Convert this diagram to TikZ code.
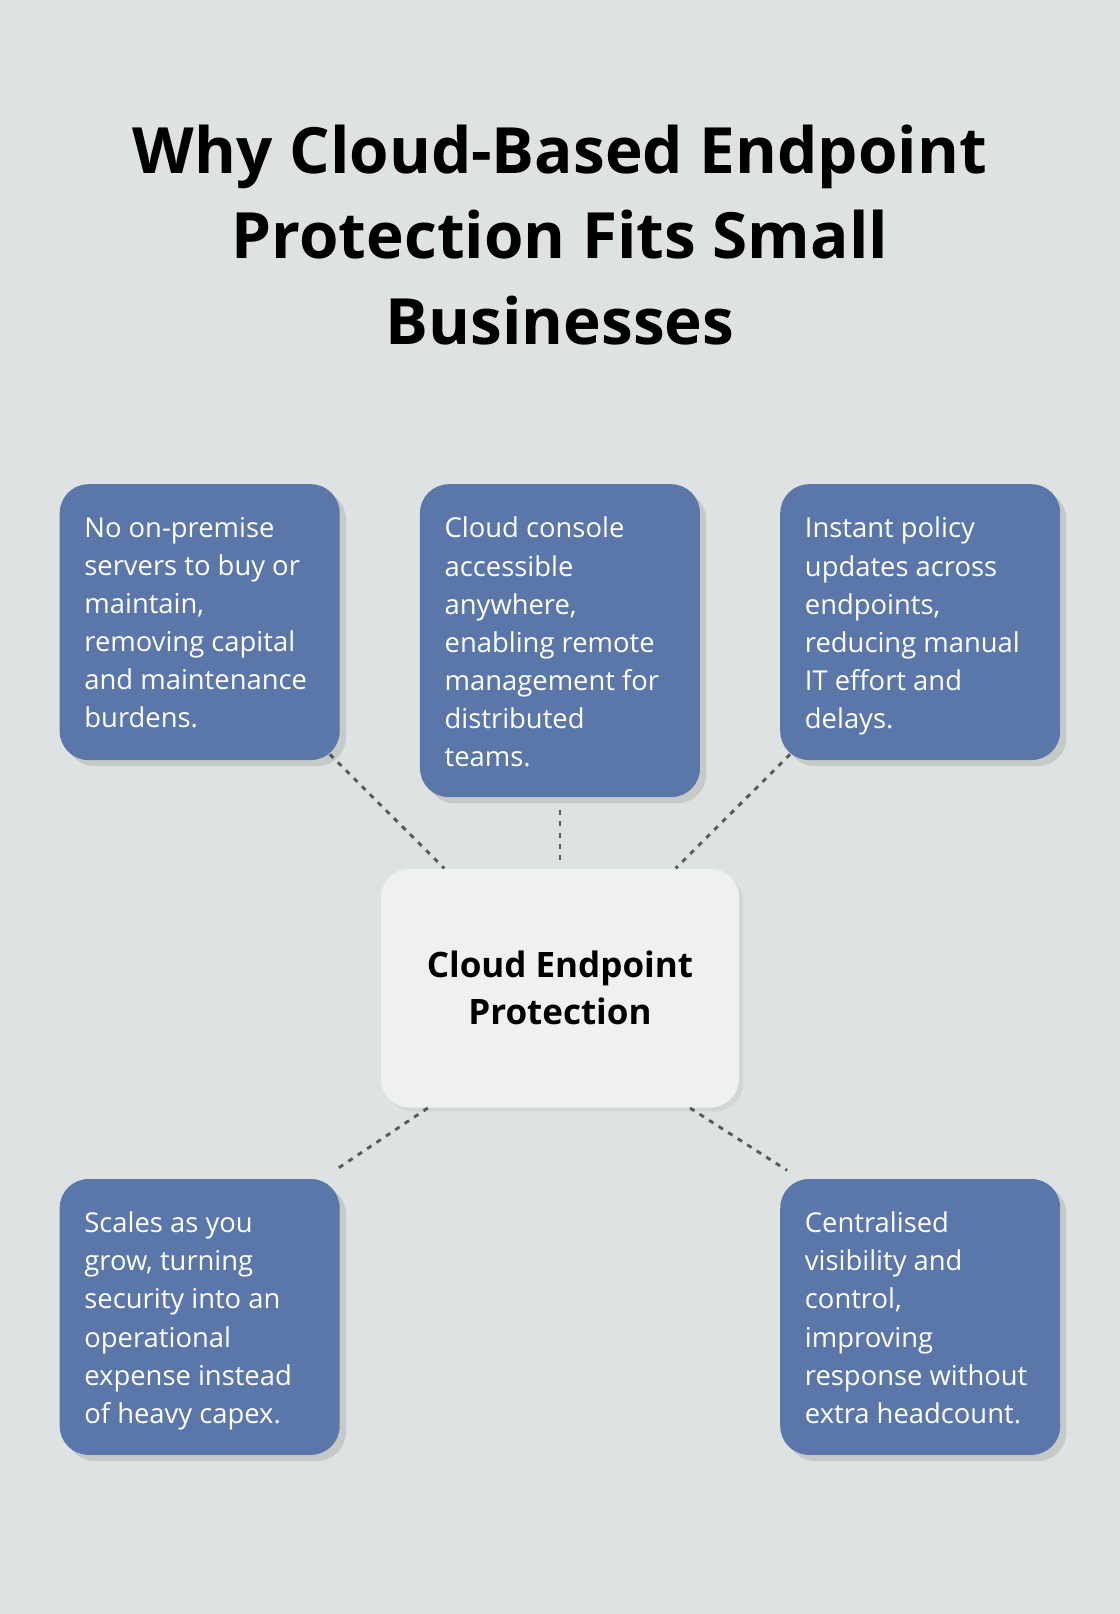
\documentclass[tikz,border=0pt]{standalone}
\usepackage{fontspec}
\setmainfont{Open Sans}
\usetikzlibrary{positioning,shadows}
\definecolor{bg}{HTML}{DFE2E2}
\definecolor{card}{HTML}{5B76A8}
\definecolor{hub}{HTML}{EFF0F1}
\newcommand{\cardtext}[2]{\parbox[t][#1][t]{112pt}{\raggedright #2}}
\tikzset{
  card/.style={rectangle, rounded corners=14pt, fill=card, text=white, anchor=north,
    inner xsep=12pt, inner ysep=16pt,
    font=\fontsize{13.3}{18.5}\selectfont,
    drop shadow={opacity=.25, shadow xshift=3pt, shadow yshift=-3pt}},
  link/.style={draw=black!65, line width=1.4pt, dash pattern=on 2.5pt off 3pt},
}
\begin{document}
\begin{tikzpicture}[x=.5pt, y=-.5pt]
	\fill[bg] (0,0) rectangle (1088,1568);
	\node (title) at (544,228) [align=center, font=\fontsize{31}{41.5}\selectfont\bfseries]
	  {Why Cloud-Based Endpoint\\Protection Fits Small\\Businesses};
	\node (hub) at (544,960) [rectangle, rounded corners=14pt, fill=hub, minimum width=174pt,
	  minimum height=116pt, align=center, font=\fontsize{17}{23}\selectfont\bfseries,
	  drop shadow={opacity=.12, shadow xshift=2pt, shadow yshift=-2pt}]
	  {Cloud Endpoint\\Protection};
	\node[card] (costs) at (194,470) {\cardtext{102pt}{No on-premise\\servers to buy or\\maintain,\\removing capital\\and maintenance\\burdens.}};
	\node[card] (remote) at (544,470) {\cardtext{120pt}{Cloud console\\accessible\\anywhere,\\enabling remote\\management for\\distributed\\teams.}};
	\node[card] (policy) at (894,470) {\cardtext{102pt}{Instant policy\\updates across\\endpoints,\\reducing manual\\IT effort and\\delays.}};
	\node[card] (scale) at (194,1145) {\cardtext{102pt}{Scales as you\\grow, turning\\security into an\\operational\\expense instead\\of heavy capex.}};
	\node[card] (control) at (894,1145) {\cardtext{102pt}{Centralised\\visibility and\\control,\\improving\\response without\\extra headcount.}};
	% connectors
	\draw[link] ([shift={(-10,-6)}]costs.south east) -- ([shift={(62,0)}]hub.north west);
	\draw[link] ([yshift=-6pt]remote.south) -- ([yshift=3pt]hub.north);
	\draw[link] ([shift={(10,-6)}]policy.south west) -- ([shift={(-62,0)}]hub.north east);
	\draw[link] ([shift={(46,0)}]hub.south west) -- ([shift={(-5,-8)}]scale.north east);
	\draw[link] ([shift={(-48,0)}]hub.south east) -- ([shift={(7,-8)}]control.north west);
\end{tikzpicture}
\end{document}
